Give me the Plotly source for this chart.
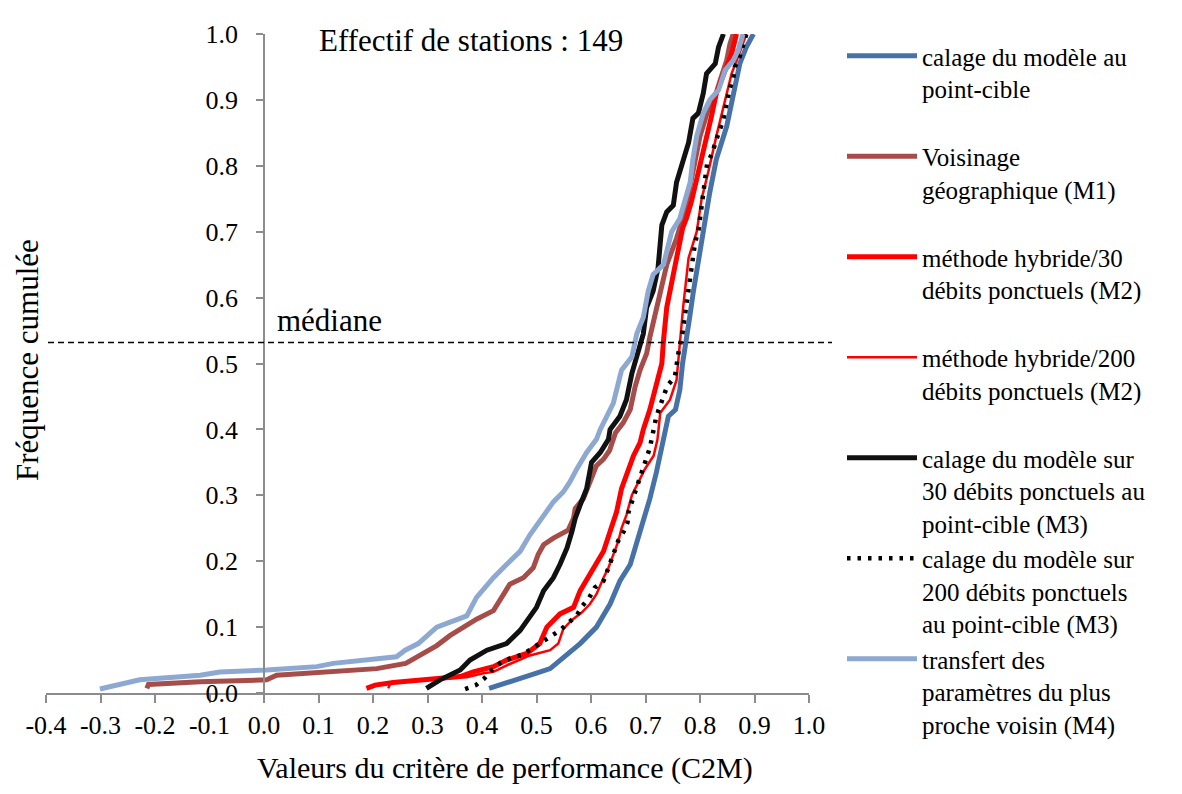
import plotly.graph_objects as go

# ---------------- data ----------------
series_names = [
    "calage du modèle au<br>point-cible<br>\u00a0",
    "Voisinage<br>géographique (M1)<br>\u00a0",
    "méthode hybride/30<br>débits ponctuels (M2)<br>\u00a0",
    "méthode hybride/200<br>débits ponctuels (M2)<br>\u00a0",
    "calage du modèle sur<br>30 débits ponctuels au<br>point-cible (M3)",
    "calage du modèle sur<br>200 débits ponctuels<br>au point-cible (M3)",
    "transfert des<br>paramètres du plus<br>proche voisin (M4)",
]

x_cible = [0.413, 0.445, 0.476, 0.500, 0.525, 0.552, 0.580, 0.610, 0.635, 0.653, 0.672, 0.690,
           0.708, 0.720, 0.736, 0.742, 0.755, 0.763, 0.768, 0.775, 0.781, 0.788, 0.797, 0.806,
           0.818, 0.830, 0.849, 0.861, 0.873, 0.885, 0.898]
y_cible = [0.007, 0.015, 0.024, 0.030, 0.037, 0.055, 0.075, 0.100, 0.135, 0.170, 0.195, 0.245,
           0.295, 0.335, 0.395, 0.420, 0.430, 0.460, 0.500, 0.532, 0.570, 0.610, 0.660, 0.700,
           0.760, 0.810, 0.860, 0.910, 0.955, 0.980, 1.000]

x_m1 = [-0.215, -0.212, -0.117, 0.005, 0.023, 0.115, 0.207, 0.260, 0.292, 0.317, 0.341, 0.366,
        0.390, 0.421, 0.436, 0.451, 0.476, 0.494, 0.503, 0.513, 0.531, 0.558, 0.568, 0.571,
        0.586, 0.598, 0.610, 0.623, 0.634, 0.645, 0.659, 0.672, 0.681, 0.690, 0.702, 0.708,
        0.720, 0.727, 0.739, 0.757, 0.772, 0.782, 0.791, 0.800, 0.815, 0.824, 0.837, 0.849,
        0.855, 0.861]
y_m1 = [0.007, 0.013, 0.017, 0.020, 0.027, 0.032, 0.037, 0.045, 0.060, 0.072, 0.087, 0.100,
        0.112, 0.125, 0.145, 0.165, 0.175, 0.190, 0.210, 0.225, 0.235, 0.247, 0.265, 0.280,
        0.295, 0.320, 0.345, 0.355, 0.368, 0.395, 0.410, 0.430, 0.465, 0.490, 0.515, 0.540,
        0.580, 0.610, 0.650, 0.690, 0.730, 0.770, 0.810, 0.845, 0.885, 0.895, 0.930, 0.960,
        0.985, 1.000]

x_m2_30 = [0.188, 0.204, 0.237, 0.298, 0.323, 0.360, 0.384, 0.421, 0.445, 0.482, 0.506, 0.519,
           0.543, 0.568, 0.580, 0.592, 0.610, 0.623, 0.635, 0.647, 0.656, 0.665, 0.678, 0.690,
           0.696, 0.708, 0.720, 0.730, 0.733, 0.739, 0.751, 0.757, 0.768, 0.775, 0.784, 0.794,
           0.803, 0.812, 0.821, 0.830, 0.843, 0.858, 0.867]
y_m2_30 = [0.007, 0.012, 0.016, 0.020, 0.021, 0.025, 0.032, 0.040, 0.050, 0.060, 0.075, 0.100,
           0.120, 0.130, 0.155, 0.172, 0.195, 0.215, 0.245, 0.275, 0.310, 0.330, 0.360, 0.380,
           0.400, 0.430, 0.470, 0.500, 0.535, 0.585, 0.635, 0.660, 0.705, 0.720, 0.745, 0.780,
           0.810, 0.845, 0.875, 0.910, 0.940, 0.970, 1.000]

x_m2_200 = [0.228, 0.232, 0.298, 0.323, 0.372, 0.402, 0.421, 0.451, 0.488, 0.525, 0.540, 0.549,
            0.564, 0.583, 0.598, 0.610, 0.623, 0.632, 0.641, 0.650, 0.656, 0.665, 0.675, 0.687,
            0.699, 0.715, 0.722, 0.727, 0.745, 0.757, 0.763, 0.769, 0.779, 0.794, 0.803, 0.815,
            0.830, 0.846, 0.858, 0.872, 0.885]
y_m2_200 = [0.007, 0.015, 0.020, 0.022, 0.024, 0.030, 0.032, 0.044, 0.057, 0.065, 0.075, 0.097,
            0.110, 0.122, 0.135, 0.150, 0.175, 0.190, 0.210, 0.230, 0.250, 0.270, 0.300, 0.320,
            0.340, 0.360, 0.385, 0.425, 0.445, 0.475, 0.530, 0.585, 0.660, 0.700, 0.750, 0.790,
            0.845, 0.900, 0.940, 0.970, 1.000]

x_m3_30 = [0.298, 0.323, 0.360, 0.378, 0.409, 0.445, 0.470, 0.488, 0.500, 0.513, 0.531, 0.543,
           0.556, 0.565, 0.571, 0.580, 0.592, 0.601, 0.617, 0.632, 0.635, 0.653, 0.665, 0.675,
           0.684, 0.696, 0.702, 0.714, 0.723, 0.730, 0.739, 0.751, 0.757, 0.766, 0.779, 0.787,
           0.797, 0.806, 0.812, 0.828, 0.834, 0.843]
y_m3_30 = [0.007, 0.020, 0.035, 0.050, 0.065, 0.075, 0.095, 0.115, 0.130, 0.155, 0.175, 0.195,
           0.220, 0.245, 0.265, 0.285, 0.310, 0.350, 0.365, 0.385, 0.400, 0.420, 0.445, 0.485,
           0.510, 0.545, 0.585, 0.610, 0.645, 0.710, 0.730, 0.740, 0.775, 0.800, 0.835, 0.872,
           0.880, 0.910, 0.940, 0.955, 0.980, 1.000]

x_m3_200 = [0.369, 0.389, 0.404, 0.418, 0.434, 0.453, 0.474, 0.491, 0.508, 0.527, 0.543, 0.558,
            0.574, 0.584, 0.597, 0.607, 0.623, 0.632, 0.640, 0.650, 0.660, 0.667, 0.669, 0.676,
            0.684, 0.695, 0.708, 0.720, 0.727, 0.733, 0.740, 0.754, 0.760, 0.768, 0.774, 0.779,
            0.785, 0.791, 0.797, 0.803, 0.808, 0.813, 0.823, 0.828, 0.842, 0.846, 0.855, 0.861,
            0.864, 0.873, 0.880, 0.885]
y_m3_200 = [0.006, 0.012, 0.022, 0.035, 0.046, 0.053, 0.058, 0.067, 0.077, 0.086, 0.095, 0.106,
            0.118, 0.132, 0.145, 0.160, 0.170, 0.190, 0.210, 0.231, 0.245, 0.259, 0.275, 0.292,
            0.310, 0.339, 0.372, 0.420, 0.435, 0.451, 0.466, 0.480, 0.514, 0.547, 0.581, 0.615,
            0.650, 0.684, 0.701, 0.735, 0.770, 0.803, 0.820, 0.835, 0.868, 0.885, 0.918, 0.933,
            0.950, 0.966, 0.985, 1.000]

x_m4 = [-0.301, -0.228, -0.117, -0.081, 0.005, 0.097, 0.127, 0.243, 0.259, 0.283, 0.317, 0.347,
        0.372, 0.390, 0.421, 0.445, 0.470, 0.488, 0.513, 0.531, 0.549, 0.561, 0.574, 0.592,
        0.610, 0.617, 0.641, 0.656, 0.675, 0.684, 0.696, 0.705, 0.714, 0.733, 0.739, 0.748,
        0.763, 0.772, 0.782, 0.787, 0.794, 0.806, 0.818, 0.834, 0.840, 0.846, 0.861, 0.870,
        0.879]
y_m4 = [0.006, 0.020, 0.027, 0.032, 0.035, 0.040, 0.045, 0.055, 0.065, 0.075, 0.100, 0.110,
        0.117, 0.145, 0.175, 0.195, 0.215, 0.240, 0.270, 0.290, 0.305, 0.320, 0.340, 0.365,
        0.385, 0.400, 0.440, 0.490, 0.510, 0.545, 0.570, 0.610, 0.635, 0.650, 0.670, 0.700,
        0.720, 0.745, 0.775, 0.810, 0.845, 0.880, 0.900, 0.915, 0.930, 0.945, 0.960, 0.975,
        1.000]

x_tickvals = [-0.4, -0.3, -0.2, -0.1, 0.0, 0.1, 0.2, 0.3, 0.4, 0.5, 0.6, 0.7, 0.8, 0.9, 1.0]
x_ticktext = ["-0.4", "-0.3", "-0.2", "-0.1", "0.0", "0.1", "0.2", "0.3", "0.4", "0.5",
              "0.6", "0.7", "0.8", "0.9", "1.0"]
y_tickvals = [0.0, 0.1, 0.2, 0.3, 0.4, 0.5, 0.6, 0.7, 0.8, 0.9, 1.0]
y_ticktext = ["0.0", "0.1", "0.2", "0.3", "0.4", "0.5", "0.6", "0.7", "0.8", "0.9", "1.0"]

median_freq = 0.532
n_stations = 149

# ---------------- styling / layout ----------------
FONT = "Liberation Serif"
series = [
    (x_cible, y_cible, "#4672A8", 5, "solid"),
    (x_m1, y_m1, "#A64D4A", 5, "solid"),
    (x_m2_30, y_m2_30, "#FF0000", 5, "solid"),
    (x_m2_200, y_m2_200, "#FF0000", 2.5, "solid"),
    (x_m3_30, y_m3_30, "#111111", 5, "solid"),
    (x_m3_200, y_m3_200, "#000000", 4.5, "3.5px,7px"),
    (x_m4, y_m4, "#8EA9D1", 5, "solid"),
]

# page offset: the html body has an 8px margin
OFF = 8
W, H = 1182 - 2 * OFF, 794 - 2 * OFF
# target plot area in page pixels
PX_LEFT, PX_RIGHT, PX_TOP, PX_BOTTOM = 46, 809, 28, 693
L = PX_LEFT - OFF
T = PX_TOP - OFF
R = W - (PX_RIGHT - OFF)
B = H - (PX_BOTTOM - OFF)
plot_w = PX_RIGHT - PX_LEFT
plot_h = PX_BOTTOM - PX_TOP


def paper_x(px):
    return (px - PX_LEFT) / plot_w


def paper_y(py):
    return (PX_BOTTOM - py) / plot_h


fig = go.Figure()
for (xs, ys, col, w, dash), name in zip(series, series_names):
    fig.add_trace(go.Scatter(
        x=xs, y=ys, mode="lines", name=name,
        line=dict(color=col, width=w, dash=dash),
        hoverinfo="skip",
    ))

x_range = [-0.4, 1.0]
yaxis_pos = (0 - x_range[0]) / (x_range[1] - x_range[0])

fig.update_layout(
    width=W, height=H,
    margin=dict(l=L, r=R, t=T, b=B, pad=0),
    paper_bgcolor="white", plot_bgcolor="white",
    font=dict(family=FONT, size=25, color="black"),
    showlegend=True,
    legend=dict(
        x=paper_x(842), y=paper_y(27),
        xanchor="left", yanchor="top",
        font=dict(family=FONT, size=25, color="black"),
        valign="top", itemwidth=70, bgcolor="rgba(0,0,0,0)",
        tracegroupgap=0, maxheight=770,
    ),
    xaxis=dict(
        range=x_range, tickvals=x_tickvals, ticktext=x_ticktext,
        showgrid=False, zeroline=False, showline=True,
        linecolor="#8c8c8c", linewidth=1.5,
        ticks="outside", ticklen=8, tickcolor="#8c8c8c", tickwidth=1.5,
        tickfont=dict(family=FONT, size=26, color="black"),
    ),
    yaxis=dict(
        range=[0, 1.0], tickvals=y_tickvals, ticktext=y_ticktext,
        anchor="free", position=yaxis_pos,
        showgrid=False, zeroline=False, showline=True,
        linecolor="#8c8c8c", linewidth=1.5,
        ticks="outside", ticklen=7, tickcolor="#8c8c8c", tickwidth=1.5,
        tickfont=dict(family=FONT, size=26, color="black"),
        ticklabelstandoff=13,
    ),
)

# median line
fig.add_shape(type="line", xref="paper", yref="y",
              x0=paper_x(48), x1=paper_x(832),
              y0=median_freq, y1=median_freq,
              line=dict(color="black", width=1.5, dash="6px,4px"))

fig.add_annotation(text="médiane", xref="x", yref="y", x=0.02, y=median_freq + 0.004,
                   xanchor="left", yanchor="bottom", showarrow=False,
                   font=dict(family=FONT, size=31, color="black"))
fig.add_annotation(text=f"Effectif de stations : {n_stations}", xref="x", yref="y",
                   x=0.097, y=0.99, xanchor="left", yanchor="middle", showarrow=False,
                   font=dict(family=FONT, size=31, color="black"))
# axis titles
fig.add_annotation(text="Valeurs du critère de performance (C2M)", xref="paper", yref="paper",
                   x=paper_x(505), y=paper_y(769),
                   xanchor="center", yanchor="middle", showarrow=False,
                   font=dict(family=FONT, size=30, color="black"))
fig.add_annotation(text="Fréquence cumulée", xref="paper", yref="paper",
                   x=paper_x(27), y=paper_y(357),
                   xanchor="center", yanchor="middle", textangle=-90, showarrow=False,
                   font=dict(family=FONT, size=31, color="black"))

fig.write_html("out.html")
